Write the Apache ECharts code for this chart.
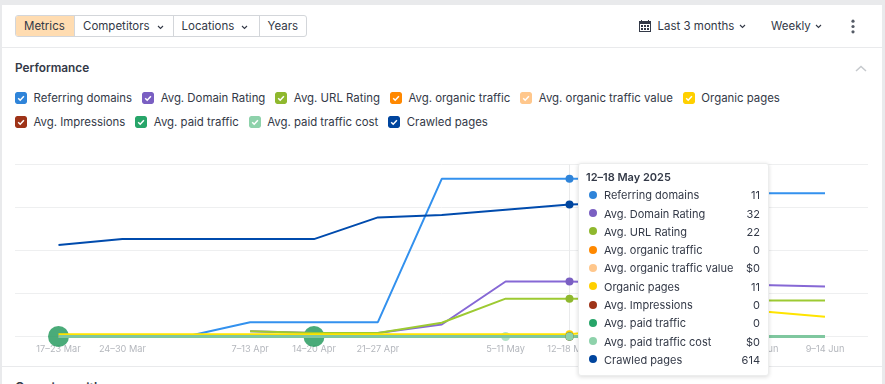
<!DOCTYPE html>
<html>
<head>
<meta charset="utf-8">
<title>Performance</title>
<script src="https://cdn.jsdelivr.net/npm/echarts@6/dist/echarts.min.js"></script>
<style>
  html, body { margin: 0; padding: 0; width: 885px; height: 384px; overflow: hidden; background: #e9eaec; }
  body, #chart { font-family: Inter, 'Noto Sans', sans-serif; color: #333947; font-size: 11.5px; }
  #panel { position: absolute; left: 2px; top: 5px; width: 879.5px; height: 379px; background: #fff; }
  #chart { position: absolute; left: 0; top: 0; width: 885px; height: 384px; }
  .abs { position: absolute; white-space: nowrap; line-height: 16px; }
  .rule { position: absolute; left: 2px; width: 879.5px; height: 1px; background: #e9eaec; }
  #tabs { position: absolute; left: 15px; top: 15px; height: 20px; display: flex; border: 1px solid #d3d6da; border-radius: 3px; overflow: hidden; background: #fff; }
  #tabs div { height: 20px; line-height: 21px; padding-left: 8px; box-sizing: border-box; border-left: 1px solid #d3d6da; }
  #tabs div:first-child { border-left: 0; background: #ffdcb1; }
  #tabs svg { margin-left: 7px; vertical-align: 0; }
  .legendRow { position: absolute; left: 15px; height: 16px; display: flex; font-size: 11.4px; }
  .item { display: flex; align-items: center; margin-right: 10px; white-space: nowrap; line-height: 16px; }
  .box { width: 12px; height: 12px; border-radius: 2px; margin-right: 6.5px; display: block; }
</style>
</head>
<body>
<div id="panel"></div>
<div id="tabs"></div>
<div class="rule" style="top:47px"></div>
<div class="abs" style="left:15px;top:60px;font-weight:600;font-size:11.8px">Performance</div>
<svg class="abs" style="left:855px;top:65px" width="12" height="7"><path d="M1 6 L6 1.5 L11 6" fill="none" stroke="#c6c9cd" stroke-width="1.5"/></svg>

<svg class="abs" style="left:639px;top:20px" width="12" height="12"><path fill="#333947" fill-rule="evenodd" d="M2 0h1v1h6V0h1v1h2v11H0V1h2zM1 4v7h10V4z"/><path fill="#333947" d="M2 5h2v2H2zM5 5h2v2H5zM8 5h2v2H8zM2 8h2v2H2zM5 8h2v2H5zM8 8h2v2H8z"/></svg>
<div class="abs" style="left:657.5px;top:18px">Last 3 months</div>
<svg class="abs" style="left:739px;top:24px" width="7" height="5"><path d="M1 1 L3.5 3.5 L6 1" fill="none" stroke="#333947" stroke-width="1.1"/></svg>
<div class="abs" style="left:771px;top:18px">Weekly</div>
<svg class="abs" style="left:815px;top:24px" width="7" height="5"><path d="M1 1 L3.5 3.5 L6 1" fill="none" stroke="#333947" stroke-width="1.1"/></svg>
<svg class="abs" style="left:850px;top:19px" width="6" height="15"><circle cx="3" cy="2.2" r="1.6" fill="#555b66"/><circle cx="3" cy="7.5" r="1.6" fill="#555b66"/><circle cx="3" cy="12.8" r="1.6" fill="#555b66"/></svg>

<div class="legendRow" id="legend1" style="top:90px"></div>
<div class="legendRow" id="legend2" style="top:114px"></div>

<div class="rule" style="top:366px"></div>
<div class="abs" style="left:15px;top:379.5px;font-weight:600;font-size:12.5px">Overview with</div>

<div id="chart"></div>

<script>
var categories = ['17–23 Mar', '24–30 Mar', '31 Mar–6 Apr', '7–13 Apr', '14–20 Apr', '21–27 Apr', '28 Apr–4 May', '5–11 May', '12–18 May', '19–25 May', '26 May–1 Jun', '2–8 Jun', '9–14 Jun']
var hiddenLabels = ['31 Mar–6 Apr', '28 Apr–4 May', '26 May–1 Jun']
var tabs = ['Metrics', 'Competitors', 'Locations', 'Years']

var referringDomains = [0, 0, 0, 1, 1, 1, 11, 11, 11, 11, 10, 10, 10]
var domainRating = [null, null, null, 3, 2, 2, 7, 32, 32, 31, 31, 30, 29]
var urlRating = [null, null, null, 3, 2, 2, 8, 22, 22, 22, 21, 21, 21]
var organicTraffic = [0, 0, 0, 0, 0, 0, 0, 0, 0, 0, 0, 0, 0]
var organicTrafficValue = [0, 0, 0, 0, 0, 0, 0, 0, 0, 0, 0, 0, 0]
var organicPages = [11, 11, 11, 11, 11, 11, 11, 11, 11, 40, 80, 118, 92]
var impressions = [0, 0, 0, 0, 0, 0, 0, 0, 0, 0, 0, 0, 0]
var paidTraffic = [0, 0, 0, 0, 0, 0, 0, 0, 0, 0, 0, 0, 0]
var paidTrafficCost = [0, 0, 0, 0, 0, 0, 0, 0, 0, 0, 0, 0, 0]
var crawledPages = [426, 453, 453, 453, 453, 554, 565, 590, 614, 622, null, null, null]

// weeks that carry the round notes on the baseline
var paidNotes = ['17–23 Mar', '14–20 Apr']
var costNotes = ['5–11 May']
var activeWeek = '12–18 May'

// name, values, colour, y axis, prefix, legend row
var metrics = [
  ['Referring domains', referringDomains, '#2f84d9', 0, '', 1],
  ['Avg. Domain Rating', domainRating, '#7a5fc2', 1, '', 1],
  ['Avg. URL Rating', urlRating, '#8fb82e', 1, '', 1],
  ['Avg. organic traffic', organicTraffic, '#ff8800', 3, '', 1],
  ['Avg. organic traffic value', organicTrafficValue, '#ffc78c', 3, '$', 1],
  ['Organic pages', organicPages, '#ffd000', 2, '', 1],
  ['Avg. Impressions', impressions, '#9e3318', 3, '', 2],
  ['Avg. paid traffic', paidTraffic, '#27a569', 3, '', 2],
  ['Avg. paid traffic cost', paidTrafficCost, '#8ed2ab', 3, '$', 2],
  ['Crawled pages', crawledPages, '#00459e', 2, '', 2]
]

var chevron = '<svg width="7" height="5"><path d="M1 1 L3.5 3.5 L6 1" fill="none" stroke="#333947" stroke-width="1.1"/></svg>'
var tabWidths = [58, 98.5, 86, 47]
document.getElementById('tabs').innerHTML = tabs.map(function (t, i) {
  return '<div style="width:' + tabWidths[i] + 'px">' + t + (i === 1 || i === 2 ? chevron : '') + '</div>'
}).join('')

metrics.forEach(function (m) {
  var el = document.createElement('div')
  el.className = 'item'
  el.innerHTML = '<svg class="box" viewBox="0 0 12 12"><rect width="12" height="12" rx="2" fill="' + m[2] + '"/>' +
    '<path d="M3.2 6.2 L5.2 8.2 L8.9 4.2" fill="none" stroke="#fff" stroke-width="1.5"/></svg>' + m[0]
  document.getElementById('legend' + m[5]).appendChild(el)
})

var chart = echarts.init(document.getElementById('chart'))

var series = metrics.map(function (m) {
  return {
    name: m[0],
    type: 'line',
    xAxisIndex: 1,
    yAxisIndex: m[3] + 1,
    data: m[1],
    showSymbol: false,
    symbol: 'circle',
    symbolSize: 8,
    itemStyle: { color: m[2] },
    lineStyle: { color: m[2], width: 2 },
    emphasis: { scale: false, lineStyle: { width: 2 } }
  }
})
// the two paid lines sit on top of each other, the darker one shows through
series[7].lineStyle.width = 3
series[7].emphasis.lineStyle.width = 3
series[8].lineStyle.width = 3
series[8].emphasis.lineStyle.width = 3
series[8].lineStyle.opacity = 0.45
series[7].lineStyle.color = '#5f9f7c'

series.push({
  name: 'paidNotes',
  type: 'scatter',
  xAxisIndex: 1,
  yAxisIndex: 4,
  symbolSize: 21,
  itemStyle: { color: '#2a9c62', opacity: 0.85 },
  data: paidNotes.map(function (w) { return [w, 0] })
})
series.push({
  name: 'costNotes',
  type: 'scatter',
  xAxisIndex: 1,
  yAxisIndex: 4,
  symbolSize: 9,
  itemStyle: { color: '#8ed2ab', opacity: 0.65 },
  data: costNotes.map(function (w) { return [w, 0] })
})

function hiddenY() {
  return { type: 'value', gridIndex: 1, show: false, min: 0 }
}

chart.setOption({
  animation: false,
  textStyle: { fontFamily: 'Inter, Noto Sans, sans-serif' },
  grid: [
    { left: 15, right: 17, top: 164.5, height: 172 }, // only carries the long split lines
    { left: 58.5, right: 60, top: 164.5, height: 172 }
  ],
  xAxis: [
    { type: 'value', gridIndex: 0, show: false, min: 0, max: 1, axisPointer: { show: false } },
    {
      type: 'category',
      gridIndex: 1,
      data: categories,
      boundaryGap: false,
      axisLine: { show: false },
      axisTick: { show: false },
      axisLabel: {
        color: '#b4b7bd',
        fontSize: 9.2,
        margin: 8,
        hideOverlap: false,
        interval: function (i, v) { return hiddenLabels.indexOf(v) < 0 }
      },
      axisPointer: { type: 'line', z: 1, lineStyle: { color: '#e9eaeb', width: 1, type: 'solid' }, label: { show: false } }
    }
  ],
  yAxis: [
    {
      type: 'value',
      gridIndex: 0,
      min: 0,
      max: 4,
      interval: 1,
      axisLine: { show: false },
      axisTick: { show: false },
      axisLabel: { show: false },
      axisPointer: { show: false },
      splitLine: { lineStyle: { color: '#eeeff0', width: 1 } }
    },
    Object.assign(hiddenY(), { max: 12 }), // domains
    Object.assign(hiddenY(), { max: 100 }), // ratings
    Object.assign(hiddenY(), { max: 800 }), // pages
    Object.assign(hiddenY(), { max: 100 }) // traffic and cost
  ],
  tooltip: {
    trigger: 'axis',
    alwaysShowContent: true,
    transitionDuration: 0,
    showDelay: 0,
    position: [577.5, 163],
    padding: 0,
    borderWidth: 1,
    borderColor: '#eceded',
    backgroundColor: '#fff',
    extraCssText: 'box-shadow:0 1px 4px rgba(0,0,0,.14);border-radius:3px;width:191px;height:213px;box-sizing:border-box;',
    textStyle: { fontSize: 11, color: '#333947', fontFamily: 'Inter, Noto Sans, sans-serif' },
    formatter: function (params) {
      var rows = params.filter(function (p) { return p.seriesType === 'line' })
      var html = '<div style="position:absolute;left:7px;top:5px;font-weight:600;line-height:16px">' + activeWeek + ' 2025</div>'
      rows.forEach(function (p, i) {
        var m = metrics[p.seriesIndex]
        var top = 23.2 + i * 18.3
        html += '<div style="position:absolute;left:9.5px;top:' + (top + 3.5) + 'px;width:8px;height:8px;border-radius:50%;background:' + m[2] + '"></div>' +
          '<div style="position:absolute;left:25px;top:' + top + 'px;line-height:16px">' + m[0] + '</div>' +
          '<div style="position:absolute;right:8px;top:' + top + 'px;line-height:16px">' + m[4] + p.value + '</div>'
      })
      return html
    }
  },
  series: series
})

chart.dispatchAction({ type: 'showTip', seriesIndex: 0, dataIndex: categories.indexOf(activeWeek) })
</script>
</body>
</html>
